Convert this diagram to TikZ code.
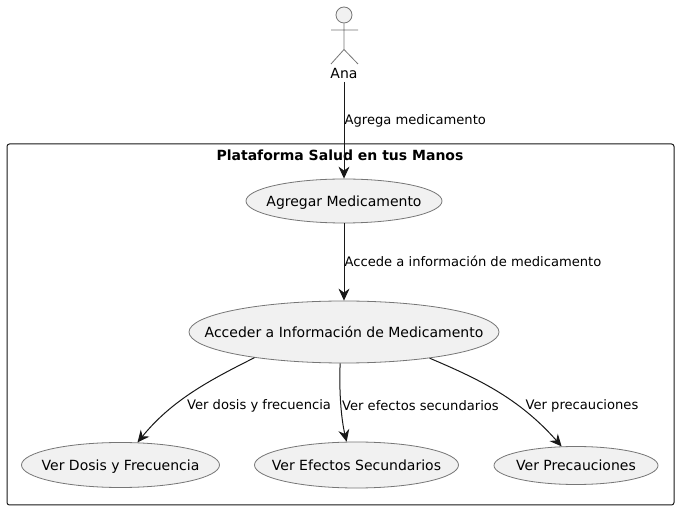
\documentclass[tikz,border=0pt]{standalone}
\usepackage{fontspec}
\setmainfont{DejaVu Sans}
\usetikzlibrary{shapes.geometric,arrows.meta}
\definecolor{fillgrey}{HTML}{F1F1F1}
\definecolor{linegrey}{HTML}{767676}
\definecolor{ink}{HTML}{181818}
\newcommand{\uctext}[1]{\raisebox{-0.37em}[0pt][0pt]{\makebox[0pt]{#1}}}
\tikzset{
  usecase/.style={ellipse,draw=linegrey,fill=fillgrey,line width=0.8pt,inner sep=0pt,text=black,font=\fontsize{14}{16}\selectfont},
  edgelabel/.style={anchor=west,inner sep=0pt,text=black,font=\fontsize{13.1}{15}\selectfont},
  link/.style={draw=ink,line width=1pt,-{Stealth[length=12pt,width=11pt,inset=4pt]}},
  actorline/.style={draw=linegrey,line width=0.8pt}
}
\begin{document}
\begin{tikzpicture}[x=1pt,y=-1pt]
\useasboundingbox (0,0) rectangle (678,510);
\fill[white] (0,0) rectangle (678,510);
\node[draw=ink,line width=1pt,rounded corners=2.5pt,inner sep=0pt,minimum width=667pt,minimum height=361pt] (frame) at (340.5,324.5) {};
\node[inner sep=0pt,font=\fontsize{14}{16}\selectfont\bfseries] (title) at (340,155) {Plataforma Salud en tus Manos};
% actor
\node[circle,draw=linegrey,fill=fillgrey,line width=0.8pt,inner sep=0pt,minimum size=16pt] (head) at (344,15) {};
\coordinate (armL) at (331,30);
\coordinate (armR) at (358,30);
\coordinate (hip) at (344,49.5);
\coordinate (legL) at (331,64);
\coordinate (legR) at (358,64);
\draw[actorline] (head.south) -- (hip) (armL) -- (armR) (legL) -- (hip) -- (legR);
\node[inner sep=0pt,font=\fontsize{14}{16}\selectfont,text height=10.5pt,text depth=0pt] (ana) at (344,73) {Ana};
\coordinate (anaout) at (344,82);
% use cases
\node[usecase,minimum width=196pt,minimum height=44pt] (agregar) at (344,201) {\uctext{Agregar Medicamento}};
\node[usecase,minimum width=310pt,minimum height=62pt] (acceder) at (344,332) {\uctext{Acceder a Información de Medicamento}};
\node[usecase,minimum width=198pt,minimum height=45pt] (dosis) at (120.5,465) {\uctext{Ver Dosis y Frecuencia}};
\node[usecase,minimum width=204pt,minimum height=46pt] (efectos) at (356.5,465) {\uctext{Ver Efectos Secundarios}};
\node[usecase,minimum width=164pt,minimum height=38pt] (prec) at (576,465.5) {\uctext{Ver Precauciones}};
% connectors
\draw[link] (anaout) -- (agregar.north);
\draw[link] (agregar.south) -- (acceder.north);
\draw[link] (acceder.196.5) .. controls (210,380) and (172,400) .. (dosis.53);
\draw[link] (acceder.263) .. controls (339,390) and (341,418) .. (efectos.113);
\draw[link] (acceder.343.5) .. controls (476,378) and (518,397) .. (prec.127);
% labels
\node[edgelabel] (l1) at (344.5,121) {Agrega medicamento};
\node[edgelabel] (l2) at (344.5,261.5) {Accede a información de medicamento};
\node[edgelabel] (l3) at (187,406) {Ver dosis y frecuencia};
\node[edgelabel] (l4) at (342,406) {Ver efectos secundarios};
\node[edgelabel] (l5) at (525.5,406) {Ver precauciones};
\end{tikzpicture}
\end{document}
